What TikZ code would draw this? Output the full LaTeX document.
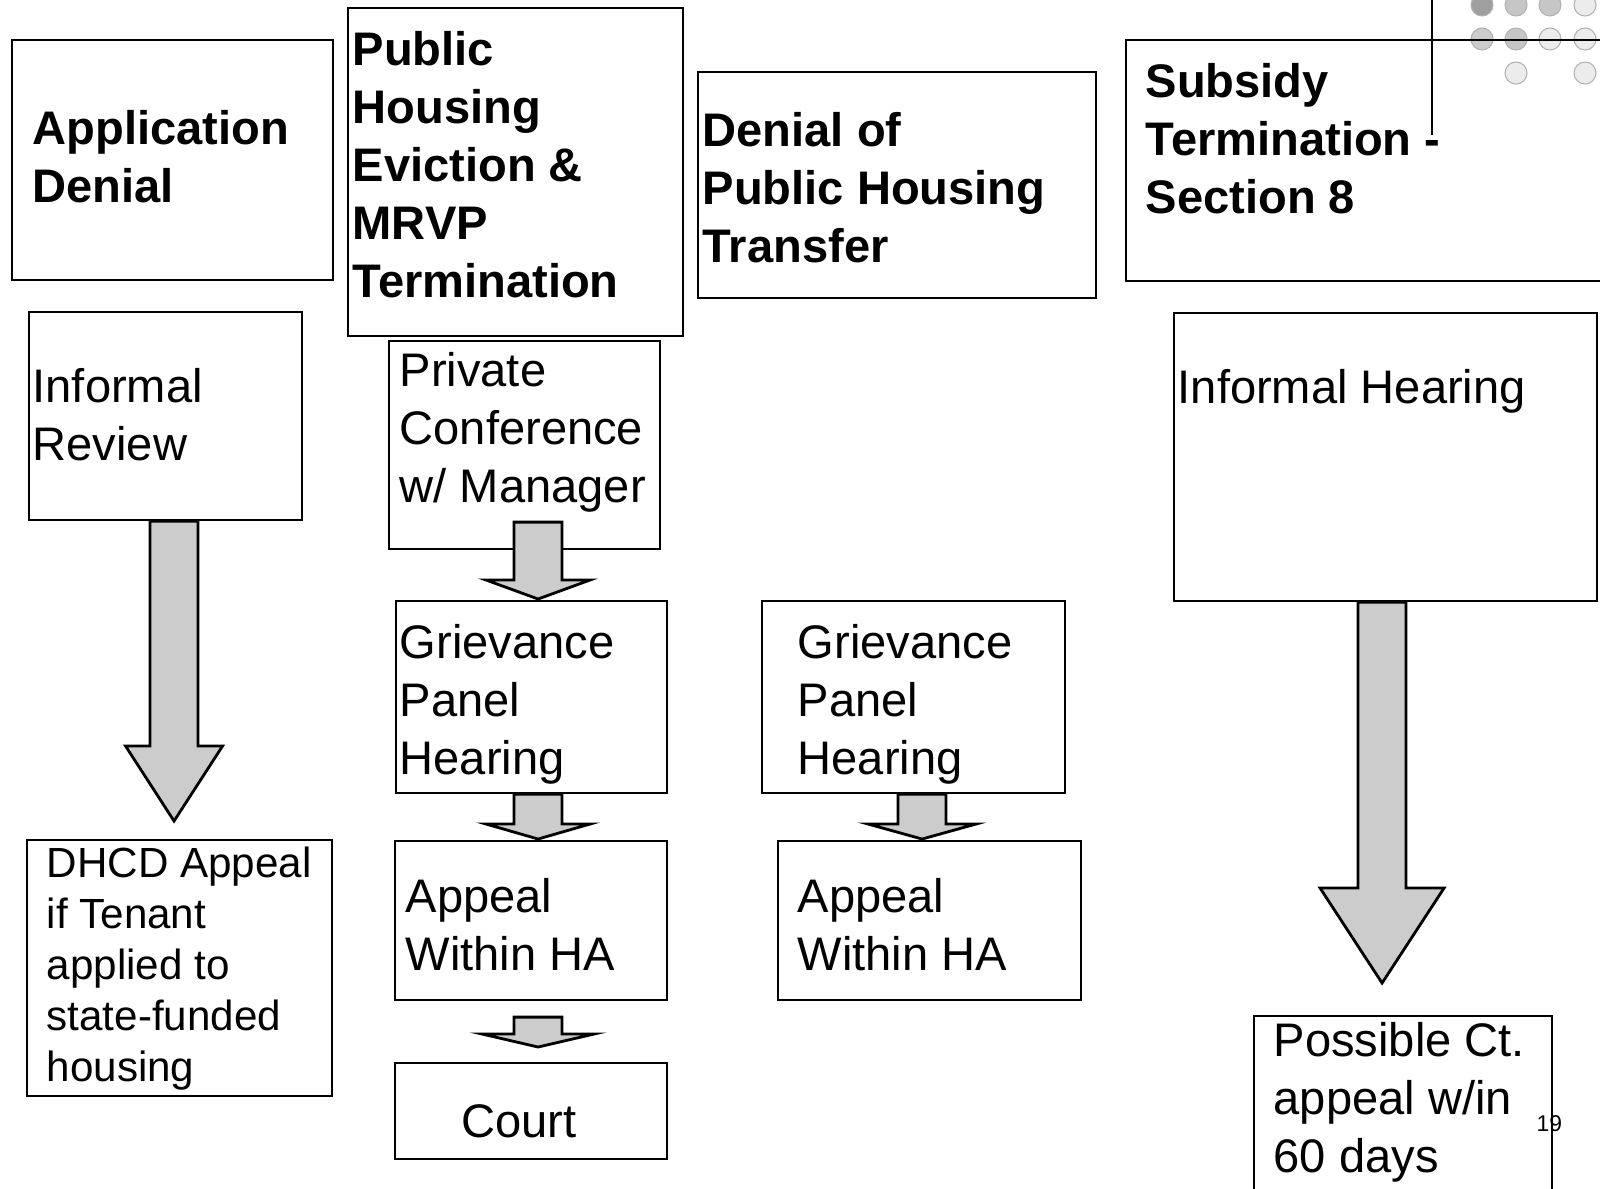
\documentclass[tikz,border=0pt]{standalone}
\usepackage{fontspec}
\setmainfont{Liberation Sans}
\usetikzlibrary{calc}
\definecolor{arrowgray}{gray}{0.80}
\tikzset{>=latex}
\tikzset{
  box/.style={draw, line width=0.6pt, anchor=north west, inner sep=0pt},
  headtxt/.style={anchor=base west, align=left, inner sep=0pt, font=\fontsize{13.4}{16.5}\selectfont\bfseries},
  bodytxt/.style={anchor=base west, align=left, inner sep=0pt, font=\fontsize{13.4}{16.5}\selectfont},
  smalltxt/.style={anchor=base west, align=left, inner sep=0pt, font=\fontsize{12}{14.5}\selectfont},
  dot/.style={draw=gray!60, line width=0.3pt},
  blockarrow/.style 2 args={draw, line width=0.8pt, fill=arrowgray, line join=miter,
    to path={let \p1=(\tikztostart), \p2=(\tikztotarget) in
      (\x1-0.24cm,\y1) -- (\x1-0.24cm,\y2+#1) -- (\x1-#2,\y2+#1) -- (\x1,\y2)
      -- (\x1+#2,\y2+#1) -- (\x1+0.24cm,\y2+#1) -- (\x1+0.24cm,\y1) -- cycle}}
}

\begin{document}
\begin{tikzpicture}
  \useasboundingbox (0,0) rectangle (16,-11.88);

  % Slide decoration
  \draw[line width=0.6pt] (14.32,0) -- (14.32,-1.35);
  \fill[dot, fill=gray!75] (14.82,-0.05) circle (0.11);
  \fill[dot, fill=gray!45] (15.16,-0.05) circle (0.11);
  \fill[dot, fill=gray!45] (15.50,-0.05) circle (0.11);
  \fill[dot, fill=gray!15] (15.85,-0.05) circle (0.11);
  \fill[dot, fill=gray!40] (14.82,-0.39) circle (0.11);
  \fill[dot, fill=gray!45] (15.16,-0.39) circle (0.11);
  \fill[dot, fill=gray!15] (15.50,-0.39) circle (0.11);
  \fill[dot, fill=gray!15] (15.85,-0.39) circle (0.11);
  \fill[dot, fill=gray!15] (15.16,-0.73) circle (0.11);
  \fill[dot, fill=gray!15] (15.85,-0.73) circle (0.11);

  % Boxes
  \node[box, minimum width=3.21cm, minimum height=2.40cm] (appden) at (0.11,-0.39) {};
  \node[box, minimum width=3.35cm, minimum height=3.28cm] (pheviction) at (3.47,-0.07) {};
  \node[box, minimum width=3.98cm, minimum height=2.26cm] (transfer) at (6.97,-0.71) {};
  \node[box, minimum width=5.00cm, minimum height=2.41cm] (subsidy) at (11.25,-0.39) {};
  \node[box, minimum width=2.73cm, minimum height=2.08cm] (infreview) at (0.28,-3.11) {};
  \node[box, minimum width=2.71cm, minimum height=2.08cm] (privconf) at (3.88,-3.40) {};
  \node[box, minimum width=4.23cm, minimum height=2.88cm] (infhearing) at (11.73,-3.12) {};
  \node[box, minimum width=2.71cm, minimum height=1.92cm] (griev1) at (3.95,-6.00) {};
  \node[box, minimum width=3.03cm, minimum height=1.92cm] (griev2) at (7.61,-6.00) {};
  \node[box, minimum width=3.05cm, minimum height=2.56cm] (dhcd) at (0.26,-8.39) {};
  \node[box, minimum width=2.72cm, minimum height=1.59cm] (appeal1) at (3.94,-8.40) {};
  \node[box, minimum width=3.03cm, minimum height=1.59cm] (appeal2) at (7.77,-8.40) {};
  \node[box, minimum width=2.72cm, minimum height=0.96cm] (court) at (3.94,-10.62) {};
  \node[box, minimum width=2.98cm, minimum height=2.20cm] (possible) at (12.53,-10.15) {};

  % Arrows
  \draw[blockarrow={0.75cm}{0.485cm}] ($(infreview.south)+(0.085,0)$) to ($(dhcd.north)+(0,0.18)$);
  \draw[blockarrow={0.19cm}{0.52cm}] ($(privconf.south)+(0.135,0.28)$) to ($(griev1.north)+(0,0.01)$);
  \draw[blockarrow={0.15cm}{0.52cm}] ($(griev1.south)+(0.065,0)$) to ($(appeal1.north)+(0,0.01)$);
  \draw[blockarrow={0.15cm}{0.54cm}] ($(griev2.south)+(0.085,0)$) to ($(appeal2.north)+(0,0.01)$);
  \draw[blockarrow={0.13cm}{0.56cm}] ($(appeal1.south)+(0.07,-0.16)$) to ($(court.north)+(0,0.15)$);
  \draw[blockarrow={0.95cm}{0.62cm}] ($(infhearing.south)+(-0.035,0)$) to ($(possible.north)+(0,0.32)$);

  % Labels (anchored at the baseline of the last line)
  \node[headtxt] (appdentxt) at (0.32,-2.02) {Application\\Denial};
  \node[headtxt] (phevictiontxt) at (3.52,-2.97) {Public\\Housing\\Eviction \&\\MRVP\\Termination};
  \node[headtxt] (transfertxt) at (7.02,-2.62) {Denial of\\Public Housing\\Transfer};
  \node[headtxt] (subsidytxt) at (11.45,-2.13) {Subsidy\\Termination -\\Section 8};
  \node[bodytxt] (infreviewtxt) at (0.32,-4.60) {Informal\\Review};
  \node[bodytxt] (privconftxt) at (3.99,-5.02) {Private\\Conference\\w/ Manager};
  \node[bodytxt] (infhearingtxt) at (11.77,-4.03) {Informal Hearing};
  \node[bodytxt] (griev1txt) at (3.99,-7.74) {Grievance\\Panel\\Hearing};
  \node[bodytxt] (griev2txt) at (7.97,-7.74) {Grievance\\Panel\\Hearing};
  \node[smalltxt] (dhcdtxt) at (0.46,-10.81) {DHCD Appeal\\if Tenant\\applied to\\state-funded\\housing};
  \node[bodytxt] (appeal1txt) at (4.05,-9.70) {Appeal\\Within HA};
  \node[bodytxt] (appeal2txt) at (7.97,-9.70) {Appeal\\Within HA};
  \node[bodytxt, anchor=base] (courttxt) at (5.19,-11.37) {Court};
  \node[bodytxt] (possibletxt) at (12.73,-11.72) {Possible Ct.\\appeal w/in\\60 days};
  \node[anchor=base west, inner sep=0pt, font=\fontsize{6.5}{8}\selectfont] (pagenum) at (15.36,-11.31) {19};
\end{tikzpicture}
\end{document}
